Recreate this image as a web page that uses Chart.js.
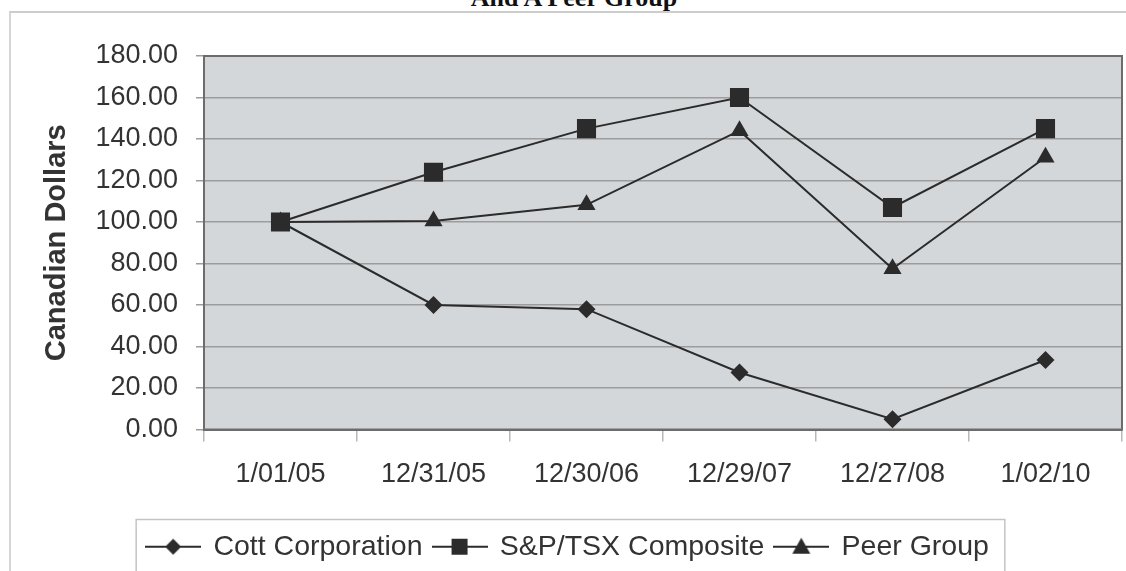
<!DOCTYPE html>
<html>
<head>
<meta charset="utf-8">
<script src="https://cdn.jsdelivr.net/npm/chart.js@4.4.1/dist/chart.umd.min.js"></script>
<style>
  body { margin: 0; background: #fff; overflow: hidden; }
  #wrap { position: relative; width: 1126px; height: 571px; overflow: hidden; }
  #frame { position: absolute; left: 9px; top: 11px; width: 1200px; height: 600px;
           border-top: 2px solid #cdcdcd; border-left: 2px solid #d6d6d6; }
  #title { position: absolute; left: 574px; top: -15px; transform: translateX(-50%);
           font: bold 26px/26px "Liberation Serif", "Times New Roman", serif; color: #111; white-space: nowrap; }
  #returnsChart { position: absolute; left: 0; top: 0; }
</style>
</head>
<body>
<div id="wrap">
  <div id="frame"></div>
  <div id="title">And A Peer Group</div>
  <canvas id="returnsChart" width="1126" height="571"></canvas>
</div>
<script>
const labels = ['1/01/05', '12/31/05', '12/30/06', '12/29/07', '12/27/08', '1/02/10'];
const cott = [100, 60, 58, 27.5, 5, 33.5];
const spTsx = [100, 124, 145, 160, 107, 145];
const peerGroup = [100, 100.5, 108.3, 144, 77.5, 131.2];
const yTicks = [0, 20, 40, 60, 80, 100, 120, 140, 160, 180];

const ink = '#2b2b2b';

// legend icon: short line with the marker in the middle
function makeIcon(shape) {
    const c = document.createElement('canvas');
    c.width = 56; c.height = 24;
    const g = c.getContext('2d');
    g.strokeStyle = ink; g.fillStyle = ink; g.lineWidth = 2;
    g.beginPath(); g.moveTo(0, 12); g.lineTo(56, 12); g.stroke();
    g.beginPath();
    if (shape === 'diamond') {
        g.moveTo(28, 4); g.lineTo(36, 12); g.lineTo(28, 20); g.lineTo(20, 12);
    } else if (shape === 'square') {
        g.rect(20, 4, 16, 16);
    } else {
        g.moveTo(28, 3); g.lineTo(37, 19); g.lineTo(19, 19);
    }
    g.closePath(); g.fill();
    return c;
}
const icons = [makeIcon('diamond'), makeIcon('square'), makeIcon('triangle')];

const plotFrame = {
    id: 'plotFrame',
    beforeDraw(chart) {
        const { ctx, chartArea: a } = chart;
        ctx.save();
        ctx.fillStyle = '#d4d7da';
        ctx.fillRect(a.left, a.top, a.right - a.left, a.bottom - a.top);
        ctx.restore();
    },
    beforeDatasetsDraw(chart) {
        const { ctx, chartArea: a } = chart;
        ctx.save();
        ctx.strokeStyle = '#6c6c6c';
        ctx.lineWidth = 2;
        ctx.strokeRect(a.left, a.top, a.right - a.left, a.bottom - a.top);
        ctx.restore();
    },
    afterDraw(chart) {
        const boxes = chart.legend.legendHitBoxes;
        if (!boxes || !boxes.length) return;
        const first = boxes[0], last = boxes[boxes.length - 1];
        const { ctx } = chart;
        ctx.save();
        ctx.strokeStyle = '#c4c4c4';
        ctx.lineWidth = 1.5;
        ctx.strokeRect(first.left - 11, first.top - 13, last.left + last.width + 16 - (first.left - 11), 100);
        ctx.restore();
    }
};

Chart.defaults.font.family = '"Liberation Sans", Arial, Helvetica, sans-serif';
Chart.defaults.color = '#333';

new Chart(document.getElementById('returnsChart'), {
    type: 'line',
    data: {
        labels: labels,
        datasets: [
            { label: 'Cott Corporation', data: cott, pointStyle: 'rectRot', pointRadius: 9 },
            { label: 'S&P/TSX Composite', data: spTsx, pointStyle: 'rect', pointRadius: 13.5 },
            { label: 'Peer Group', data: peerGroup, pointStyle: 'triangle', pointRadius: 10.5 }
        ].map(ds => Object.assign(ds, {
            borderColor: ink,
            backgroundColor: ink,
            pointBackgroundColor: ink,
            pointBorderColor: ink,
            pointBorderWidth: 0,
            borderWidth: 2,
            tension: 0,
            fill: false
        }))
    },
    options: {
        responsive: false,
        animation: false,
        layout: { autoPadding: false, padding: { left: 14, right: 4, top: 56, bottom: 0 } },
        plugins: {
            title: { display: false },
            tooltip: { enabled: false },
            legend: {
                position: 'bottom',
                labels: {
                    font: { size: 28.5 },
                    color: '#333',
                    padding: 11,
                    usePointStyle: true,
                    pointStyleWidth: 52,
                    generateLabels(chart) {
                        const items = Chart.defaults.plugins.legend.labels.generateLabels(chart);
                        items.forEach((it, i) => { it.pointStyle = icons[i]; });
                        return items;
                    }
                }
            }
        },
        scales: {
            x: {
                offset: true,
                grid: { offset: true, drawOnChartArea: false, tickLength: 12, color: '#b8b8b8', lineWidth: 1.5 },
                border: { display: true, color: '#6c6c6c', width: 2 },
                ticks: { font: { size: 27 }, color: '#333', padding: 17, maxRotation: 0 },
                afterFit(scale) { scale.height = 92; }
            },
            y: {
                min: 0,
                max: 180,
                afterBuildTicks(scale) { scale.ticks = yTicks.map(v => ({ value: v })); },
                grid: { color: '#9c9c9c', lineWidth: 1.5, tickLength: 8 },
                border: { display: true, color: '#6c6c6c', width: 2 },
                ticks: { font: { size: 27 }, color: '#333', padding: 18, callback: v => v.toFixed(2) },
                title: {
                    display: true,
                    text: 'Canadian Dollars',
                    font: { size: 29, weight: 'bold' },
                    color: '#333',
                    padding: { top: 26, bottom: 0 }
                },
                afterFit(scale) { scale.width = 190; }
            }
        }
    },
    plugins: [plotFrame]
});
</script>
</body>
</html>
